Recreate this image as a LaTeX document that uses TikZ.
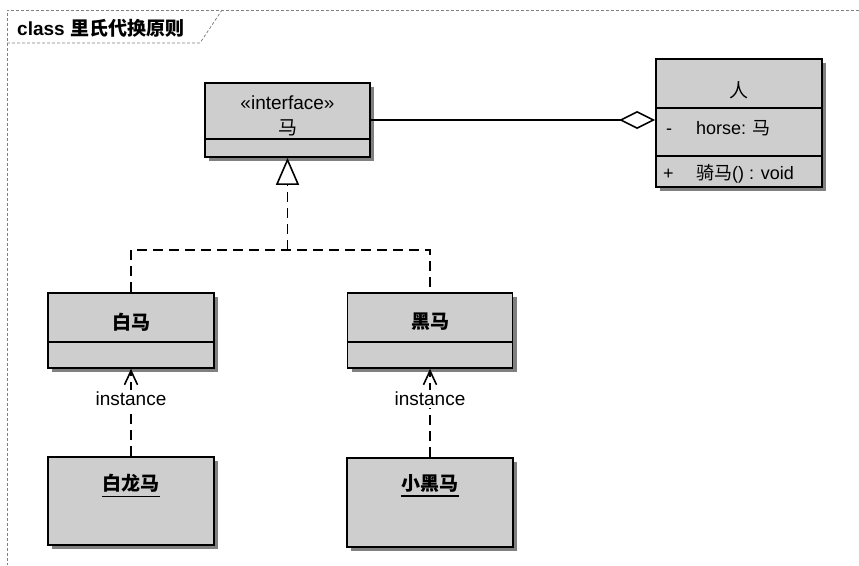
\documentclass[tikz,border=0pt]{standalone}
\usepackage{fontspec}
\setmainfont{Liberation Sans}
\newfontfamily\cjk{Noto Sans CJK SC}
\newcommand{\zh}[1]{{\cjk #1}}
\usetikzlibrary{arrows.meta, shadows}

\begin{document}
\begin{tikzpicture}[x=1pt, y=-1pt,
	cls/.style={draw, line width=1.7pt, inner sep=0pt, fill={rgb,255:red,206;green,206;blue,206},
		drop shadow={shadow xshift=4pt, shadow yshift=-4pt, fill=black!50, opacity=1}},
	txt/.style={font=\fontsize{19}{22}\selectfont, inner sep=0pt},
	row/.style={font=\fontsize{18}{21}\selectfont, inner sep=0pt, anchor=base west},
	clsname/.style={font=\fontsize{19}{22}\selectfont\bfseries, inner sep=0pt},
	dep/.style={line width=1.6pt, dash pattern=on 10pt off 6pt}]
	\useasboundingbox (0,0) rectangle (859,565);
	% frame
	\draw [gray, line width=0.8pt, dash pattern=on 3pt off 2pt] (859,10) -- (7,10) -- (7,565);
	\draw [gray, line width=0.8pt, dash pattern=on 3pt off 2pt] (7,43) -- (200,43) -- (222,10);
	\node [anchor=west, inner sep=0pt, font=\fontsize{19}{22}\selectfont\bfseries] (title) at (17,28) {class \zh{里氏代换原则}};

	\node [cls, minimum width=165pt, minimum height=74pt] (ma) at (287.5,120) {};
	\node [cls, minimum width=166pt, minimum height=128pt] (ren) at (739,123) {};
	\node [cls, minimum width=166pt, minimum height=75pt] (baima) at (131,330.5) {};
	\node [cls, minimum width=165pt, minimum height=75pt] (heima) at (430,330.5) {};
	\node [cls, minimum width=166pt, minimum height=88pt] (bailongma) at (131,501) {};
	\node [cls, minimum width=166pt, minimum height=89pt] (xiaoheima) at (430,502.5) {};
	\draw [line width=1.7pt] (ma.west |- 0,139) -- (ma.east |- 0,139);
	\draw [line width=1.7pt] (ren.west |- 0,108) -- (ren.east |- 0,108);
	\draw [line width=1.7pt] (ren.west |- 0,156) -- (ren.east |- 0,156);
	\draw [line width=1.7pt] (baima.west |- 0,342) -- (baima.east |- 0,342);
	\draw [line width=1.7pt] (heima.west |- 0,342) -- (heima.east |- 0,342);

	\node [txt] (stereo) at (287.5,103) {«interface»};
	\node [txt] (maname) at (287.5,128) {\zh{马}};
	\node [txt] (renname) at (739,90) {\zh{人}};
	\node [row] (attrvis) at (666,134) {-};
	\node [row] (attr) at (696,134) {horse: \zh{马}};
	\node [row] (opvis) at (663,179) {+};
	\node [row] (op) at (696,179) {\zh{骑马}() : void};
	\node [clsname] (baimaname) at (131,322) {\zh{白马}};
	\node [clsname] (heimaname) at (430,322) {\zh{黑马}};
	\node [clsname] (bailongmaname) at (131,483) {\zh{白龙马}};
	\node [clsname] (xiaoheimaname) at (430,483) {\zh{小黑马}};
	\draw [line width=1.5pt] ([yshift=-4pt]bailongmaname.south west) -- ([yshift=-4pt]bailongmaname.south east);
	\draw [line width=1.5pt] ([yshift=-4pt]xiaoheimaname.south west) -- ([yshift=-4pt]xiaoheimaname.south east);

	\draw [line width=1.6pt, -{Diamond[fill=white, length=36pt, width=18pt]}] (ma.east) -- (ma.east -| ren.west);
	\coordinate (fork) at (287.5,250);
	\draw [dep] (baima.north) |- (fork) -| (heima.north);
	\draw [dep, -{Triangle[fill=white, length=27pt, width=23pt]}] (fork) -- (ma.south);
	\draw [dep, -{Straight Barb[length=14pt, width=13pt]}] (bailongma.north) -- (baima.south)
		node [txt, pos=0.66, fill=white, inner sep=2pt] (inst1) {instance};
	\draw [dep, -{Straight Barb[length=14pt, width=13pt]}] (xiaoheima.north) -- (heima.south)
		node [txt, pos=0.66, fill=white, inner sep=2pt] (inst2) {instance};
\end{tikzpicture}
\end{document}
